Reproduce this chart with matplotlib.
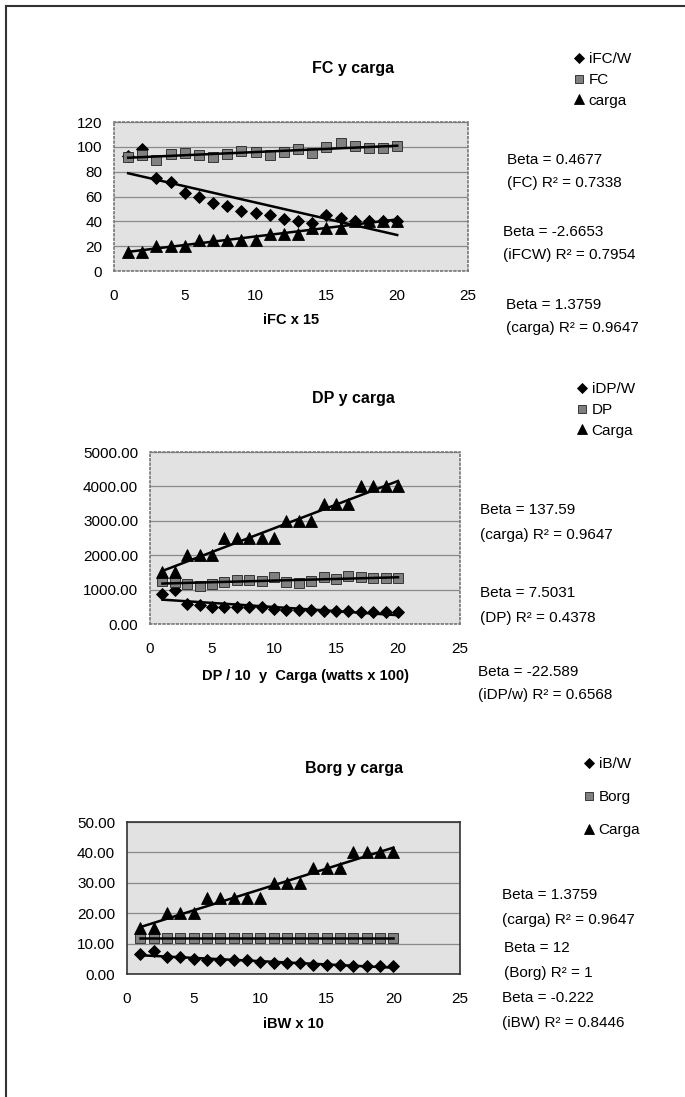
import matplotlib.pyplot as plt
import numpy as np

plt.rcParams['font.family'] = ['Liberation Sans', 'DejaVu Sans']
plt.rcParams['font.size'] = 11

# step number (1..20)
x = np.arange(1, 21)

# FC y carga
ifc_w = [93, 98, 75, 72, 63, 60, 55, 52, 48, 47, 45, 42, 40, 39, 45, 43, 40, 40, 40, 40]
fc = [92, 93.5, 89, 94, 95, 93.5, 92, 94, 97, 96, 93.5, 96, 98, 95, 100, 103, 101, 99, 99, 100.5]
carga = [15, 15, 20, 20, 20, 25, 25, 25, 25, 25, 30, 30, 30, 35, 35, 35, 40, 40, 40, 40]

# DP y carga
idp_w = [870, 1000, 580, 560, 480, 490, 500, 500, 490, 450, 410, 400, 420, 390, 370, 370, 345, 335, 335, 335]
dp = [1250, 1220, 1160, 1100, 1160, 1220, 1275, 1275, 1250, 1360, 1220, 1200, 1250, 1360, 1300, 1390, 1360, 1330, 1330, 1330]
carga_dp = [c * 100 for c in carga]

# Borg y carga
ib_w = [6.5, 7.5, 5.5, 5.5, 5, 4.5, 4.5, 4.5, 4.5, 4, 3.5, 3.5, 3.5, 3, 3, 3, 2.7, 2.7, 2.7, 2.7]
borg = [12] * 20
carga_b = carga

W, H = 685, 1097
fig = plt.figure(figsize=(W / 100, H / 100), dpi=100)


def px_axes(l, t, r, b):
    return fig.add_axes([l / W, 1 - b / H, (r - l) / W, (b - t) / H])


def panel(ax, series, names, ymax, ystep, fmt, solid_border):
    handles = []
    for vals, mk, ms, col in series:
        h, = ax.plot(x, vals, linestyle='none', marker=mk, markersize=ms,
                     color=col, markeredgecolor='#222222' if col != 'black' else 'black',
                     markeredgewidth=0.6, zorder=3)
        handles.append(h)
        k, b0 = np.polyfit(x, vals, 1)
        ax.plot([x[0], x[-1]], [k * x[0] + b0, k * x[-1] + b0], color='black', lw=1.8, zorder=4)
    ax.set_xlim(0, 25)
    ax.set_ylim(0, ymax)
    ax.set_xticks(range(0, 26, 5))
    ax.set_yticks(np.arange(0, ymax + ystep / 2, ystep))
    ax.yaxis.set_major_formatter(plt.FormatStrFormatter(fmt))
    ax.set_facecolor('#e2e2e2')
    ax.grid(axis='y', color='#8a8a8a', lw=0.9)
    ax.set_axisbelow(True)
    ax.tick_params(length=0, labelsize=11)
    ax.tick_params(axis='x', pad=13)
    ax.tick_params(axis='y', pad=8.5)
    for s in ax.spines.values():
        if solid_border:
            s.set_color('#333333')
            s.set_linewidth(1.2)
        else:
            s.set_color('#777777')
            s.set_linestyle(':')
            s.set_linewidth(1.2)
    return handles


def legend(ax, handles, names, left, top, spacing):
    ax.legend(handles, names, loc='upper left', bbox_to_anchor=(left / W, 1 - top / H),
              bbox_transform=fig.transFigure, frameon=False, borderpad=0, borderaxespad=0,
              handlelength=0.6, handletextpad=0.35, labelspacing=spacing,
              markerscale=0.8, fontsize=11)


def note(xp, yp, s):
    fig.text(xp / W, 1 - yp / H, s, ha='left', va='center', fontsize=11)


# ---- FC y carga
ax1 = px_axes(114, 122, 468, 271)
h = panel(ax1, [(ifc_w, 'D', 6.5, 'black'), (fc, 's', 7.5, '#808080'), (carga, '^', 8.5, 'black')],
          None, 120, 20, '%d', False)
legend(ax1, h, ['iFC/W', 'FC', 'carga'], 574, 52, 0.45)
fig.text(353 / W, 1 - 68 / H, 'FC y carga', ha='center', va='center', fontsize=11.5, fontweight='bold')
ax1.text(0.5, -(49 / 149), 'iFC x 15', transform=ax1.transAxes, ha='center', va='center',
         fontsize=10.5, fontweight='bold')
note(507, 160, 'Beta = 0.4677')
note(507, 183, '(FC) R² = 0.7338')
note(503, 232, 'Beta = -2.6653')
note(503, 255, '(iFCW) R² = 0.7954')
note(506, 305, 'Beta = 1.3759')
note(506, 328, '(carga) R² = 0.9647')

# ---- DP y carga
ax2 = px_axes(150, 452, 460, 624)
h = panel(ax2, [(idp_w, 'D', 6.5, 'black'), (dp, 's', 7.5, '#808080'), (carga_dp, '^', 8.5, 'black')],
          None, 5000, 1000, '%.2f', False)
legend(ax2, h, ['iDP/W', 'DP', 'Carga'], 577, 382, 0.45)
fig.text(353 / W, 1 - 398 / H, 'DP y carga', ha='center', va='center', fontsize=11.5, fontweight='bold')
ax2.text(0.5, -(52 / 172), 'DP / 10  y  Carga (watts x 100)', transform=ax2.transAxes,
         ha='center', va='center', fontsize=10.5, fontweight='bold')
note(480, 510, 'Beta = 137.59')
note(480, 535, '(carga) R² = 0.9647')
note(480, 593, 'Beta = 7.5031')
note(480, 618, '(DP) R² = 0.4378')
note(478, 672, 'Beta = -22.589')
note(478, 695, '(iDP/w) R² = 0.6568')

# ---- Borg y carga
ax3 = px_axes(127, 822, 460, 974)
h = panel(ax3, [(ib_w, 'D', 6.5, 'black'), (borg, 's', 7.5, '#808080'), (carga_b, '^', 8.5, 'black')],
          None, 50, 10, '%.2f', True)
legend(ax3, h, ['iB/W', 'Borg', 'Carga'], 584, 757, 1.25)
fig.text(354 / W, 1 - 768 / H, 'Borg y carga', ha='center', va='center', fontsize=11.5, fontweight='bold')
ax3.text(0.5, -(50 / 152), 'iBW x 10', transform=ax3.transAxes, ha='center', va='center',
         fontsize=10.5, fontweight='bold')
note(502, 895, 'Beta = 1.3759')
note(502, 920, '(carga) R² = 0.9647')
note(504, 948, 'Beta = 12')
note(504, 973, '(Borg) R² = 1')
note(502, 998, 'Beta = -0.222')
note(502, 1023, '(iBW) R² = 0.8446')

# page frame (left and top edges)
fig.add_artist(plt.Line2D([6 / W, 6 / W], [0, 1 - 6 / H], color='#333333', lw=1.5))
fig.add_artist(plt.Line2D([6 / W, 1], [1 - 6 / H, 1 - 6 / H], color='#333333', lw=1.5))

fig.savefig('out.png', dpi=100)
